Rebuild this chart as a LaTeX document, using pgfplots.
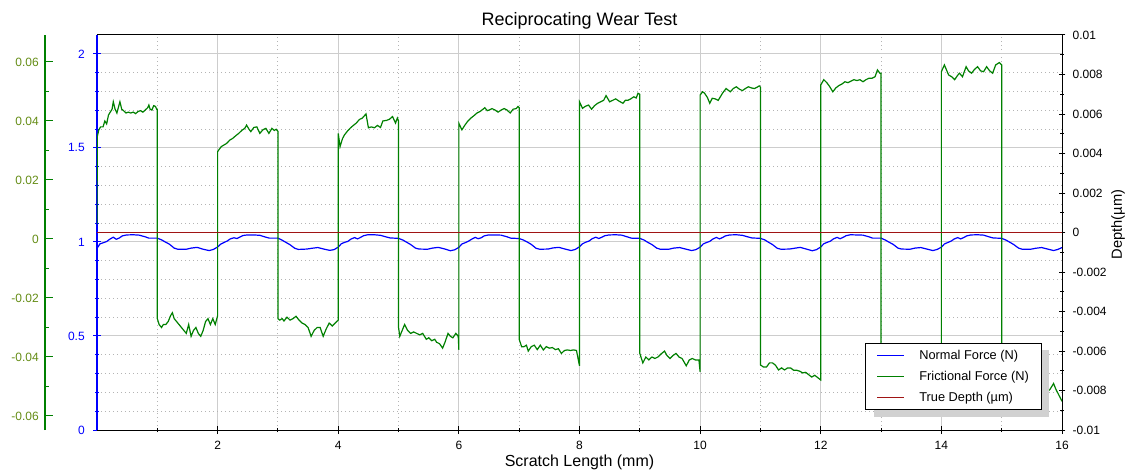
\documentclass[border=0pt]{standalone}
\usepackage{fontspec}
\setmainfont{Liberation Sans}
\usepackage{pgfplots}
\pgfplotsset{compat=1.18}
\definecolor{gline}{RGB}{0,128,0}
\definecolor{glabel}{RGB}{100,140,20}
\definecolor{bline}{RGB}{0,0,255}
\definecolor{rline}{RGB}{160,20,20}
\definecolor{majgrid}{RGB}{205,205,205}
\definecolor{mingrid}{RGB}{180,180,180}
\newcommand{\tickfont}{\fontsize{9pt}{10.8pt}\selectfont}
\newcommand{\xtickfont}{\fontsize{9pt}{10.8pt}\selectfont}
\pgfplotsset{
  base/.style={scale only axis, width=723.75pt, height=296.25pt, xmin=0, xmax=16,
    at={(0pt,0pt)}, anchor=south west,
    tick align=inside, major tick length=6pt, minor tick length=3pt,
    scaled ticks=false,
    /pgf/number format/assume math mode=true,
    tick style={line width=0.75pt}},
  noarrows/.style={
    every outer x axis line/.append style={-},
    every outer y axis line/.append style={-},
    every inner x axis line/.append style={-},
    every inner y axis line/.append style={-}},
}
\begin{document}
\begin{tikzpicture}
\useasboundingbox (-72.75pt,-31.5pt) rectangle (776.25pt,322.5pt);
% main axis: normal force
\begin{axis}[base,
  ymin=0, ymax=2.1,
  axis x line=bottom, axis y line=left, noarrows,
  x axis line style={black, line width=0.75pt, -},
  y axis line style={bline, line width=1.2pt, -},
  xtick={2,4,6,8,10,12,14,16}, minor xtick={1,3,5,7,9,11,13,15},
  ytick={0,0.5,1,1.5,2}, minor y tick num=4,
  xmajorgrids, xminorgrids, ymajorgrids, yminorgrids,
  major grid style={majgrid, line width=0.75pt, solid},
  minor grid style={mingrid, line width=0.75pt, dash pattern=on 0.75pt off 2.25pt},
  xtick style={black}, ytick style={bline},
  xticklabel style={font=\xtickfont, anchor=base, inner sep=0pt, yshift=-11.5pt},
  yticklabel style={font=\tickfont, text=bline, anchor=east, inner sep=0pt, xshift=-6pt},
  xlabel={Scratch Length (mm)},
  title={Reciprocating Wear Test},
  every axis x label/.style={at={(axis description cs:0.5,0)}, anchor=base, yshift=-27pt, font=\fontsize{12pt}{14pt}\selectfont},
  every axis title/.style={at={(axis description cs:0.5,1)}, anchor=base, yshift=7.5pt, font=\fontsize{13.5pt}{16pt}\selectfont},
]
\addplot[draw=bline, line width=0.9pt] coordinates {
(0.00,0.966) (0.05,0.990) (0.10,0.995) (0.16,1.002) (0.21,1.014) (0.27,1.025) (0.32,1.014) (0.37,1.021) (0.42,1.032) (0.49,1.037) (0.60,1.038) (0.70,1.036) (0.80,1.027) (0.86,1.020) (1.00,1.020) (1.07,1.011) (1.13,1.000) (1.20,0.988) (1.28,0.967) (1.34,0.961) (1.48,0.961) (1.56,0.967) (1.66,0.971) (1.76,0.961) (1.86,0.954) (1.93,0.960)
(2.00,0.973) (2.05,0.988) (2.10,0.996) (2.16,1.005) (2.21,1.016) (2.27,1.022) (2.32,1.018) (2.37,1.026) (2.42,1.034) (2.49,1.037) (2.60,1.037) (2.70,1.035) (2.80,1.025) (2.86,1.020) (3.00,1.020) (3.07,1.009) (3.13,0.998) (3.20,0.985) (3.28,0.966) (3.34,0.960) (3.48,0.962) (3.56,0.966) (3.66,0.970) (3.76,0.962) (3.86,0.955) (3.93,0.959)
(4.00,0.972) (4.05,0.990) (4.10,0.997) (4.16,1.003) (4.21,1.015) (4.27,1.023) (4.32,1.016) (4.37,1.024) (4.42,1.033) (4.49,1.038) (4.60,1.038) (4.70,1.035) (4.80,1.026) (4.86,1.021) (5.00,1.019) (5.07,1.010) (5.13,0.999) (5.20,0.986) (5.28,0.967) (5.34,0.962) (5.48,0.961) (5.56,0.967) (5.66,0.971) (5.76,0.963) (5.86,0.953) (5.93,0.958)
(6.00,0.971) (6.05,0.989) (6.10,0.995) (6.16,1.004) (6.21,1.014) (6.27,1.024) (6.32,1.017) (6.37,1.022) (6.42,1.032) (6.49,1.037) (6.60,1.037) (6.70,1.036) (6.80,1.027) (6.86,1.020) (7.00,1.018) (7.07,1.010) (7.13,1.000) (7.20,0.987) (7.28,0.966) (7.34,0.961) (7.48,0.962) (7.56,0.968) (7.66,0.971) (7.76,0.962) (7.86,0.954) (7.93,0.960)
(8.00,0.974) (8.05,0.990) (8.10,0.998) (8.16,1.005) (8.21,1.017) (8.27,1.025) (8.32,1.018) (8.37,1.025) (8.42,1.033) (8.49,1.037) (8.60,1.038) (8.70,1.036) (8.80,1.026) (8.86,1.020) (9.00,1.019) (9.07,1.010) (9.13,0.998) (9.20,0.986) (9.28,0.967) (9.34,0.961) (9.48,0.961) (9.56,0.967) (9.66,0.970) (9.76,0.962) (9.86,0.954) (9.93,0.959)
(10.00,0.972) (10.05,0.989) (10.10,0.996) (10.16,1.003) (10.21,1.015) (10.27,1.024) (10.32,1.016) (10.37,1.023) (10.42,1.032) (10.49,1.037) (10.60,1.038) (10.70,1.035) (10.80,1.026) (10.86,1.021) (11.00,1.019) (11.07,1.011) (11.13,0.999) (11.20,0.986) (11.28,0.966) (11.34,0.961) (11.48,0.962) (11.56,0.966) (11.66,0.971) (11.76,0.962) (11.86,0.953) (11.93,0.959)
(12.00,0.973) (12.05,0.990) (12.10,0.997) (12.16,1.004) (12.21,1.016) (12.27,1.024) (12.32,1.017) (12.37,1.024) (12.42,1.033) (12.49,1.038) (12.60,1.037) (12.70,1.036) (12.80,1.027) (12.86,1.020) (13.00,1.020) (13.07,1.010) (13.13,0.999) (13.20,0.987) (13.28,0.967) (13.34,0.962) (13.48,0.961) (13.56,0.967) (13.66,0.970) (13.76,0.962) (13.86,0.954) (13.93,0.960)
(14.00,0.972) (14.05,0.989) (14.10,0.996) (14.16,1.004) (14.21,1.015) (14.27,1.023) (14.32,1.016) (14.37,1.023) (14.42,1.032) (14.49,1.037) (14.60,1.038) (14.70,1.036) (14.80,1.026) (14.86,1.021) (15.00,1.019) (15.07,1.010) (15.13,0.999) (15.20,0.986) (15.28,0.967) (15.34,0.961) (15.48,0.961) (15.56,0.966) (15.66,0.970) (15.76,0.962) (15.86,0.954) (15.93,0.960)
(16.00,0.970)
};
\end{axis}
% frictional force data
\begin{axis}[base, ymin=-0.06475, ymax=0.06915, hide axis]
\addplot[draw=gline, line width=0.9pt] coordinates {
(0,0.005) (0.005,0.0347) (0.03,0.037) (0.06,0.038) (0.1,0.038) (0.13,0.040) (0.16,0.039) (0.19,0.042) (0.22,0.043) (0.25,0.044) (0.27,0.0465) (0.3,0.044) (0.33,0.0427) (0.36,0.045) (0.38,0.0465) (0.41,0.044) (0.44,0.0435) (0.48,0.0427) (0.52,0.043) (0.56,0.0427) (0.6,0.043) (0.64,0.0425) (0.68,0.0432) (0.72,0.0435) (0.76,0.043) (0.8,0.0437) (0.84,0.0445) (0.86,0.0454) (0.88,0.044) (0.91,0.0437) (0.94,0.0452) (0.97,0.0449) (0.99,0.044)
(1.0,0.044) (1.0,-0.027)
(1.03,-0.029) (1.07,-0.030) (1.10,-0.029) (1.14,-0.029) (1.18,-0.028) (1.22,-0.026) (1.25,-0.025) (1.28,-0.027) (1.32,-0.028) (1.36,-0.029) (1.40,-0.030) (1.44,-0.031) (1.48,-0.032) (1.52,-0.029) (1.56,-0.033) (1.60,-0.031) (1.64,-0.030) (1.68,-0.032) (1.72,-0.033) (1.76,-0.031) (1.80,-0.028) (1.84,-0.027) (1.88,-0.029) (1.92,-0.027) (1.96,-0.029) (2.0,-0.026)
(2.0,0.0296)
(2.03,0.0305) (2.06,0.0313) (2.1,0.0318) (2.15,0.0324) (2.2,0.0335) (2.25,0.0341) (2.3,0.035) (2.35,0.0358) (2.4,0.0368) (2.45,0.0375) (2.48,0.0386) (2.52,0.0372) (2.55,0.0364) (2.6,0.0378) (2.65,0.038) (2.7,0.0358) (2.75,0.037) (2.8,0.0375) (2.85,0.0358) (2.9,0.0375) (2.94,0.0368) (2.97,0.0372) (3.0,0.0365)
(3.0,-0.027)
(3.03,-0.0275) (3.07,-0.027) (3.1,-0.0278) (3.15,-0.0265) (3.2,-0.0275) (3.25,-0.027) (3.3,-0.0262) (3.35,-0.0275) (3.4,-0.0285) (3.45,-0.029) (3.5,-0.030) (3.55,-0.033) (3.6,-0.031) (3.65,-0.030) (3.7,-0.030) (3.75,-0.033) (3.8,-0.0305) (3.85,-0.0285) (3.9,-0.0295) (3.95,-0.0285) (4.0,-0.0275)
(4.0,0.0358)
(4.03,0.0313) (4.07,0.034) (4.1,0.0352) (4.15,0.0365) (4.2,0.0376) (4.25,0.0385) (4.3,0.0393) (4.35,0.0405) (4.4,0.041) (4.46,0.0424) (4.5,0.0377) (4.55,0.038) (4.6,0.0377) (4.65,0.0385) (4.7,0.0378) (4.74,0.040) (4.8,0.0402) (4.85,0.0406) (4.9,0.0415) (4.95,0.0393) (4.98,0.041) (5.0,0.040)
(5.0,-0.030)
(5.02,-0.033) (5.06,-0.031) (5.1,-0.029) (5.15,-0.031) (5.2,-0.032) (5.25,-0.0315) (5.3,-0.032) (5.35,-0.0325) (5.4,-0.032) (5.46,-0.034) (5.5,-0.0335) (5.55,-0.0345) (5.6,-0.034) (5.63,-0.035) (5.68,-0.0355) (5.73,-0.037) (5.77,-0.035) (5.82,-0.032) (5.86,-0.033) (5.9,-0.0335) (5.95,-0.032) (5.99,-0.033) (6.0,-0.0376)
(6.0,0.0392)
(6.05,0.037) (6.1,0.0386) (6.15,0.040) (6.2,0.041) (6.25,0.0418) (6.3,0.0427) (6.35,0.0432) (6.4,0.044) (6.43,0.0445) (6.47,0.0435) (6.5,0.0437) (6.55,0.0442) (6.6,0.0437) (6.65,0.043) (6.7,0.0437) (6.75,0.0442) (6.8,0.0437) (6.85,0.0427) (6.9,0.044) (6.95,0.0442) (6.98,0.0449) (7.0,0.0445)
(7.0,-0.034)
(7.04,-0.0365) (7.08,-0.0365) (7.12,-0.036) (7.15,-0.038) (7.2,-0.0365) (7.25,-0.036) (7.3,-0.0375) (7.35,-0.036) (7.4,-0.0376) (7.45,-0.0365) (7.5,-0.037) (7.55,-0.0368) (7.6,-0.0375) (7.65,-0.0372) (7.7,-0.0388) (7.75,-0.0378) (7.8,-0.0376) (7.85,-0.0378) (7.9,-0.0376) (7.95,-0.0378) (8.0,-0.043)
(8.0,0.0465)
(8.05,0.0443) (8.1,0.045) (8.15,0.0454) (8.2,0.044) (8.25,0.0452) (8.3,0.046) (8.35,0.0465) (8.4,0.047) (8.44,0.0486) (8.5,0.0465) (8.55,0.047) (8.6,0.0475) (8.65,0.0468) (8.72,0.046) (8.76,0.047) (8.8,0.047) (8.85,0.0475) (8.9,0.0482) (8.94,0.0478) (8.97,0.0494) (9.0,0.049)
(9.0,-0.0388)
(9.05,-0.042) (9.1,-0.040) (9.15,-0.041) (9.2,-0.040) (9.25,-0.0405) (9.3,-0.040) (9.35,-0.039) (9.41,-0.038) (9.45,-0.0395) (9.5,-0.0405) (9.55,-0.0395) (9.6,-0.0388) (9.65,-0.040) (9.7,-0.0405) (9.77,-0.043) (9.82,-0.041) (9.87,-0.0405) (9.92,-0.041) (9.98,-0.041) (10.0,-0.045)
(10.0,0.0488)
(10.04,0.0499) (10.07,0.0495) (10.12,0.048) (10.16,0.046) (10.2,0.0477) (10.25,0.0475) (10.3,0.047) (10.37,0.0494) (10.43,0.051) (10.5,0.0499) (10.55,0.051) (10.6,0.0516) (10.65,0.0508) (10.7,0.0503) (10.75,0.051) (10.8,0.0516) (10.85,0.0512) (10.9,0.051) (10.95,0.0515) (10.98,0.0519) (11.0,0.0515)
(11.0,-0.0427)
(11.05,-0.0434) (11.1,-0.0434) (11.15,-0.042) (11.2,-0.042) (11.25,-0.0428) (11.3,-0.0444) (11.35,-0.0437) (11.4,-0.0444) (11.45,-0.0437) (11.5,-0.0437) (11.55,-0.0445) (11.6,-0.0445) (11.65,-0.0448) (11.7,-0.0454) (11.75,-0.0452) (11.8,-0.046) (11.85,-0.0468) (11.9,-0.0462) (11.95,-0.047) (12.0,-0.0478)
(12.0,0.0522)
(12.05,0.054) (12.1,0.053) (12.15,0.0516) (12.2,0.0499) (12.25,0.0512) (12.3,0.052) (12.35,0.0525) (12.4,0.0533) (12.45,0.053) (12.5,0.0535) (12.55,0.054) (12.6,0.0537) (12.65,0.054) (12.7,0.0533) (12.75,0.054) (12.8,0.0545) (12.85,0.0545) (12.9,0.055) (12.94,0.0573) (12.98,0.0562) (13.0,0.0562)
(13.0,-0.046)
(13.1,-0.047) (13.3,-0.047) (13.5,-0.048) (13.7,-0.049) (13.9,-0.050) (14.0,-0.050)
(14.0,0.0567)
(14.05,0.059) (14.12,0.0556) (14.17,0.055) (14.22,0.054) (14.27,0.0555) (14.3,0.0562) (14.35,0.055) (14.41,0.0584) (14.45,0.057) (14.5,0.0562) (14.55,0.0575) (14.6,0.0584) (14.65,0.057) (14.7,0.0567) (14.75,0.0584) (14.8,0.057) (14.85,0.0562) (14.9,0.059) (14.96,0.0598) (15.0,0.059)
(15.0,-0.049)
(15.2,-0.050) (15.4,-0.051) (15.6,-0.051) (15.75,-0.052) (15.8,-0.051) (15.86,-0.049) (15.9,-0.051) (15.95,-0.053) (16.0,-0.055)
};
\end{axis}
% green ruler
\begin{axis}[scale only axis, width=1pt, height=296.25pt, at={(-39pt,0pt)}, anchor=south west,
  xmin=0, xmax=1, ymin=-0.06475, ymax=0.06915,
  hide x axis, axis y line=left, noarrows,
  y axis line style={gline, line width=1pt, -},
  ytick={-0.06,-0.04,-0.02,0,0.02,0.04,0.06}, minor y tick num=1,
  tick align=inside, major tick length=6pt, minor tick length=3pt,
  ytick style={gline, line width=0.75pt},
  scaled y ticks=false,
  /pgf/number format/assume math mode=true,
  yticklabel style={font=\tickfont, text=glabel, anchor=east, inner sep=0pt, xshift=-4.5pt,
    /pgf/number format/fixed, /pgf/number format/precision=3},
]
\addplot[draw=none] coordinates {(0,0)};
\end{axis}
% depth axis
\begin{axis}[base, ymin=-0.01, ymax=0.01,
  axis x line=top, axis y line=right, noarrows,
  x axis line style={black, line width=0.75pt, -},
  y axis line style={black, line width=0.75pt, -},
  xtick=\empty,
  ytick={-0.01,-0.008,-0.006,-0.004,-0.002,0,0.002,0.004,0.006,0.008,0.01}, minor y tick num=1,
  major tick length=5pt, minor tick length=3pt,
  ytick style={black},
  yticklabel style={font=\tickfont, anchor=west, inner sep=0pt, xshift=5.25pt,
    /pgf/number format/fixed, /pgf/number format/precision=3},
  ylabel={Depth(µm)},
  every axis y label/.style={at={(axis description cs:1.058,0.52)}, anchor=center, rotate=90, font=\fontsize{11pt}{13pt}\selectfont},
  legend cell align=left,
  legend style={at={(0.9793,0.0506)}, anchor=south east, line width=0.75pt,
    font=\fontsize{9.6pt}{11pt}\selectfont, inner xsep=8.5pt, inner ysep=3.8pt, row sep=5.3pt,
    nodes={inner sep=1pt},
    /tikz/every odd column/.append style={column sep=10.25pt}},
  every axis legend/.append style={draw=black, fill=white},
]
\addlegendimage{legend image code/.code={\draw[draw=bline, line width=1pt] (0pt,0pt) -- (20pt,0pt);}}
\addlegendentry{Normal Force (N)}
\addlegendimage{legend image code/.code={\draw[draw=gline, line width=1pt] (0pt,0pt) -- (20pt,0pt);}}
\addlegendentry{Frictional Force (N)}
\addplot[draw=rline, line width=1pt, legend image code/.code={\draw[draw=rline, line width=1pt] (0pt,0pt) -- (20pt,0pt);}] coordinates {(0,0) (16,0)};
\addlegendentry{True Depth (µm)}
\fill[black!18] (axis description cs:0.8052,0.0329) rectangle (axis description cs:0.9865,0.2025);
\end{axis}
\end{tikzpicture}
\end{document}
